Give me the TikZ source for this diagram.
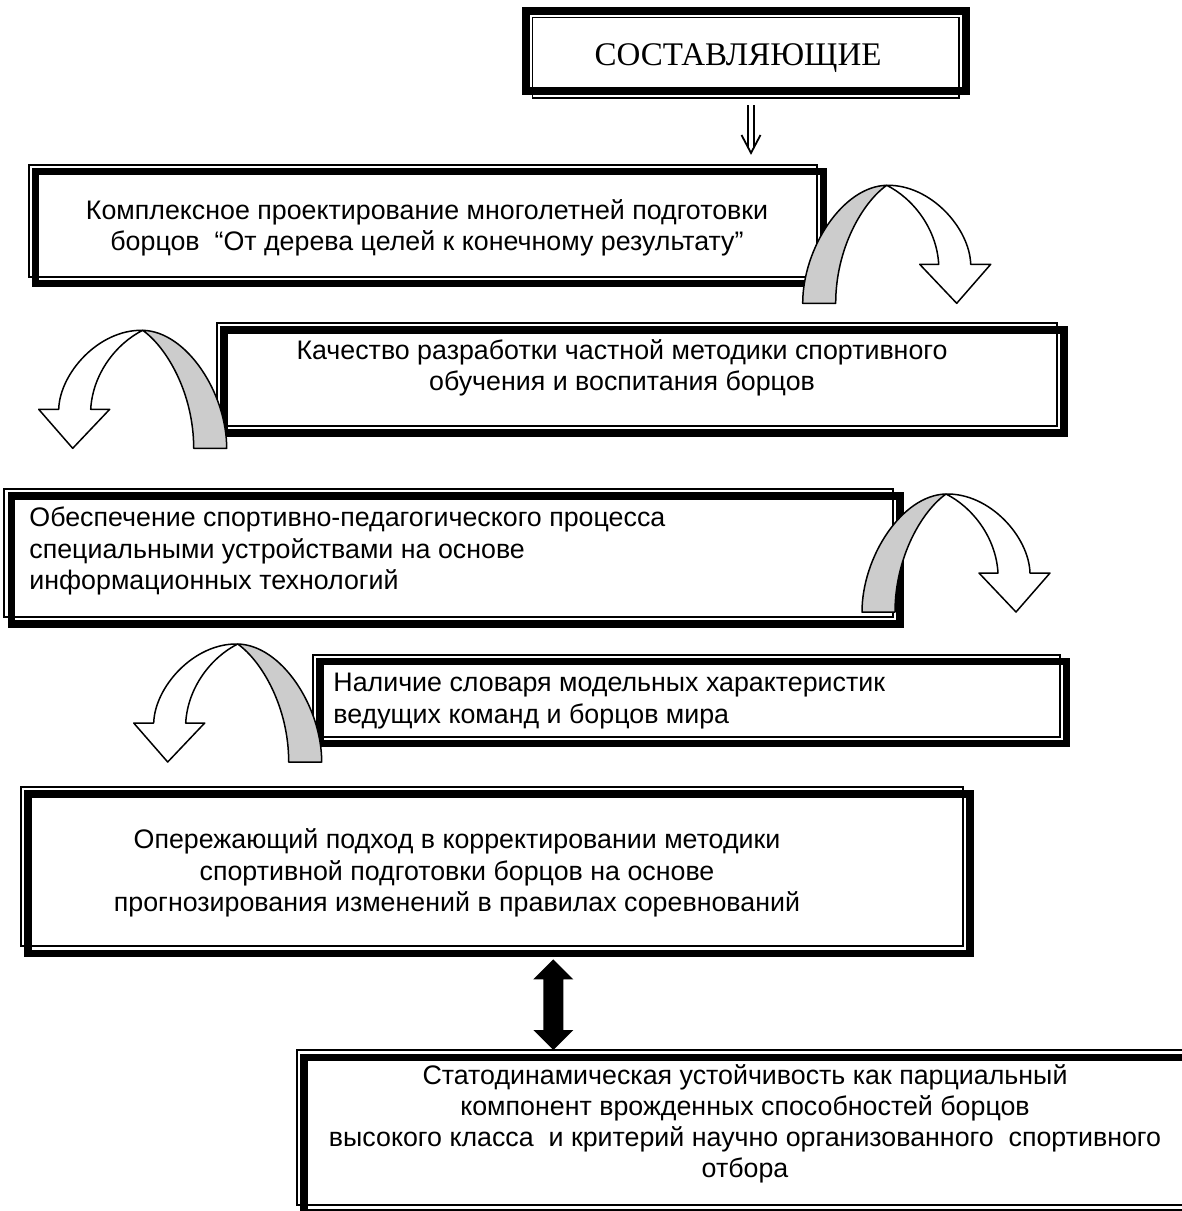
\documentclass[tikz,border=0pt]{standalone}
\usepackage{fontspec}
\setmainfont{Liberation Serif}
\newfontfamily\arialf{Liberation Sans}
\usetikzlibrary{calc}
\tikzset{
  thinln/.style={line width=0.75pt},
  thickln/.style={line width=3.6pt},
  txt/.style={font=\arialf\fontsize{13.4}{15.6}\selectfont, inner sep=0pt},
  ribbon/.style={line width=0.75pt, line join=round},
  dblarrow/.style={line width=0.9pt},
}
\newcommand{\dframe}[8]{%
  \draw[thinln] (#1,#2) rectangle (#3,#4);
  \draw[thickln] (#5,#6) rectangle (#7,#8);}
\newcommand{\curvarrow}[3]{%
  \begin{scope}[shift={(#1,#2)}, xscale=#3, yscale=-1]
    \filldraw[ribbon, fill=black!20] (0,0) .. controls (0,55) and (40,117) .. (84,118)
      .. controls (60,101) and (33,55) .. (33,0) -- cycle;
    \filldraw[ribbon, fill=white] (84,118) .. controls (128,119) and (167,75) .. (168,39)
      -- (188,39) -- (154,0) -- (117,39) -- (136,39)
      .. controls (134,75) and (110,105) .. (84,118) -- cycle;
  \end{scope}}
\begin{document}
\begin{tikzpicture}[x=0.5pt,y=-0.5pt]
\useasboundingbox (0,0) rectangle (1182,1211);
\fill[white] (0,0) rectangle (1182,1211);
\clip (0,0) rectangle (1182,1211);
% frames
\dframe{532.5}{17.5}{959}{98}{526}{11}{966}{91}
\dframe{29}{165}{817}{277}{35.5}{171.5}{823.5}{283.5}
\dframe{217}{323}{1057}{426}{224}{330}{1064}{433}
\dframe{4}{489}{893}{617}{11.5}{496}{900}{624}
\dframe{313}{655}{1060}{737}{320}{661.5}{1066.5}{743.5}
\dframe{21}{787}{963}{946}{28}{794}{970}{953.5}
\dframe{297}{1050}{1193}{1205}{304}{1057.5}{1200}{1212.5}
% texts
\node[font=\fontsize{16.5}{19}\selectfont, inner sep=0pt, anchor=base] (t1) at (738,65) {СОСТАВЛЯЮЩИЕ};
\node[txt, align=center] (t2) at (427,228) {Комплексное проектирование многолетней подготовки\\борцов\ \ “От дерева целей к конечному результату”};
\node[txt, align=center] (t3) at (622,368) {Качество разработки частной методики спортивного\\обучения и воспитания борцов};
\node[txt, align=left, anchor=west] (t4) at (29,551) {Обеспечение спортивно-педагогического процесса\\специальными устройствами на основе\\информационных технологий};
\node[txt, align=left, anchor=west] (t5) at (333,701) {Наличие словаря модельных характеристик\\ведущих команд и борцов мира};
\node[txt, align=center] (t6) at (457,873) {Опережающий подход в корректировании методики\\спортивной подготовки борцов на основе\\прогнозирования изменений в правилах соревнований};
\node[txt, align=center] (t7) at (745,1124) {Статодинамическая устойчивость как парциальный\\компонент врожденных способностей борцов\\высокого класса\ \ и критерий научно организованного\ \ спортивного\\отбора};
% double-line down arrow
\coordinate (ds) at (751,105);
\draw[dblarrow] ($(ds)+(-3.2,0)$) -- ++(0,41.7);
\draw[dblarrow] ($(ds)+(3.2,0)$) -- ++(0,41.7);
\draw[dblarrow, line join=miter] ($(ds)+(-9.5,30)$) -- ($(ds)+(0,48)$) -- ($(ds)+(9.5,30)$);
% curved arrows
\curvarrow{802.7}{303.3}{1}
\curvarrow{226.7}{448.3}{-1}
\curvarrow{862}{612}{1}
\curvarrow{321.7}{762}{-1}
% black double-headed arrow
\coordinate (dtop) at (553.3,959.3);
\coordinate (dbot) at (553.3,1050);
\fill (dtop) -- ++(20,20) -- ++(-10,0) -- ($(dbot)+(10,-20)$) -- ++(10,0) -- (dbot)
  -- ++(-20,-20) -- ++(10,0) -- ($(dtop)+(-10,20)$) -- ++(-10,0) -- cycle;
\end{tikzpicture}
\end{document}
